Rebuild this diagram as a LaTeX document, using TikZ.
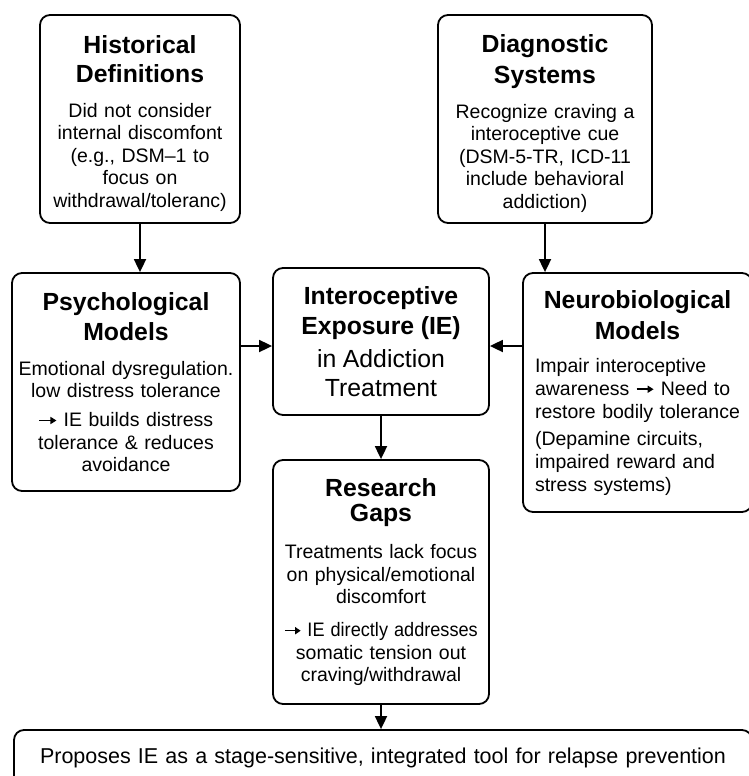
\documentclass[tikz,border=0pt]{standalone}
\usepackage{fontspec}
\usepackage{graphicx}
\setmainfont{Liberation Sans}
\usetikzlibrary{arrows.meta}
\newcommand{\bodyfont}{\fontsize{19.5}{22.5}\selectfont}
\newcommand{\headfont}{\fontsize{24.8}{28}\selectfont}
\newcommand{\bighead}[1]{{\headfont\bfseries #1}}
\newcommand{\bigtext}[1]{{\headfont #1}}
% small inline arrow as in the text lines
\newcommand{\rarr}{\tikz[baseline=0pt]\draw[line width=1.5pt,-{Triangle[length=6pt,width=7pt]}] (0pt,6pt) -- (17pt,6pt);}
\tikzset{
  blk/.style={draw=black, line width=1.8pt, rounded corners=10pt, fill=white,
    align=center, inner sep=3pt, font=\bodyfont},
  arr/.style={-{Triangle[length=13pt,width=12pt]}, line width=1.8pt}
}

\begin{document}
\begin{tikzpicture}[x=1pt, y=-1pt]
  \useasboundingbox (0,0) rectangle (749,776);

  % Top row
  \node[blk, minimum width=200pt, minimum height=208pt, text width=190pt] (hist) at (140,119)
    {\bighead{\rule{0pt}{27pt}Historical}\\[6.5pt]\bighead{Definitions}\\[12.5pt]Did not consider\\internal discomfont\\(e.g., DSM--1 to\\focus on\\withdrawal/toleranc)};
  \node[blk, minimum width=214pt, minimum height=208pt, text width=204pt] (diag) at (545,119)
    {\bighead{\rule{0pt}{27pt}Diagnostic}\\[6.5pt]\bighead{Systems}\\[12.5pt]Recognize craving a\\interoceptive cue\\(DSM-5-TR, ICD-11\\include behavioral\\addiction)};

  % Middle row
  \node[blk, minimum width=228pt, minimum height=218pt, text width=220pt] (psych) at (126,382)
    {\bighead{Psychological}\\[5.5pt]\bighead{Models}\\[12.5pt]Emotional dysregulation.\\low distress tolerance\\[6.5pt]\rarr\ IE builds distress\\tolerance \& reduces\\avoidance};
  \node[blk, minimum width=216pt, minimum height=147pt, text width=206pt] (ie) at (381,341.5)
    {\bighead{Interoceptive}\\[6.5pt]\bighead{Exposure (IE)}\\[9pt]\bigtext{in Addiction}\\[6.5pt]\bigtext{Treatment}};
  \node[blk, minimum width=229pt, minimum height=239pt, text width=219pt] (neuro) at (637.5,392.5)
    {\bighead{\rule{0pt}{22pt}Neurobiological}\\[6.5pt]\bighead{Models}\\[10.5pt]\begin{tabular}[t]{@{}l@{}}Impair interoceptive\\[0.5pt]awareness \rarr\ Need to\\[0.5pt]restore bodily tolerance\\[5pt] (Depamine circuits,\\[0.5pt]impaired reward and\\[0.5pt]stress systems)\end{tabular}};

  % Lower part
  \node[blk, minimum width=216pt, minimum height=244pt, text width=206pt] (gaps) at (381,582)
    {\bighead{Research}\\[3pt]\bighead{Gaps}\\[14.5pt]Treatments lack focus\\on physical/emotional\\discomfort\\[10.5pt]\scalebox{0.93}[1]{\rarr\ IE directly addresses}\\somatic tension out\\craving/withdrawal};
  \node[blk, minimum width=738pt, minimum height=56pt, text width=730pt,
    font=\fontsize{21.5}{24}\selectfont] (prop) at (383,758)
    {Proposes IE as a stage-sensitive, integrated tool for relapse prevention};

  % Connectors
  \draw[arr] (hist.south) -- (hist.south |- psych.north);
  \draw[arr] (diag.south) -- (diag.south |- neuro.north);
  \draw[arr] ([yshift=-4.5pt]ie.west -| psych.east) -- ([yshift=-4.5pt]ie.west);
  \draw[arr] ([yshift=-4.5pt]ie.east -| neuro.west) -- ([yshift=-4.5pt]ie.east);
  \draw[arr] (ie.south) -- (gaps.north);
  \draw[arr] (gaps.south) -- (gaps.south |- prop.north);
\end{tikzpicture}
\end{document}
